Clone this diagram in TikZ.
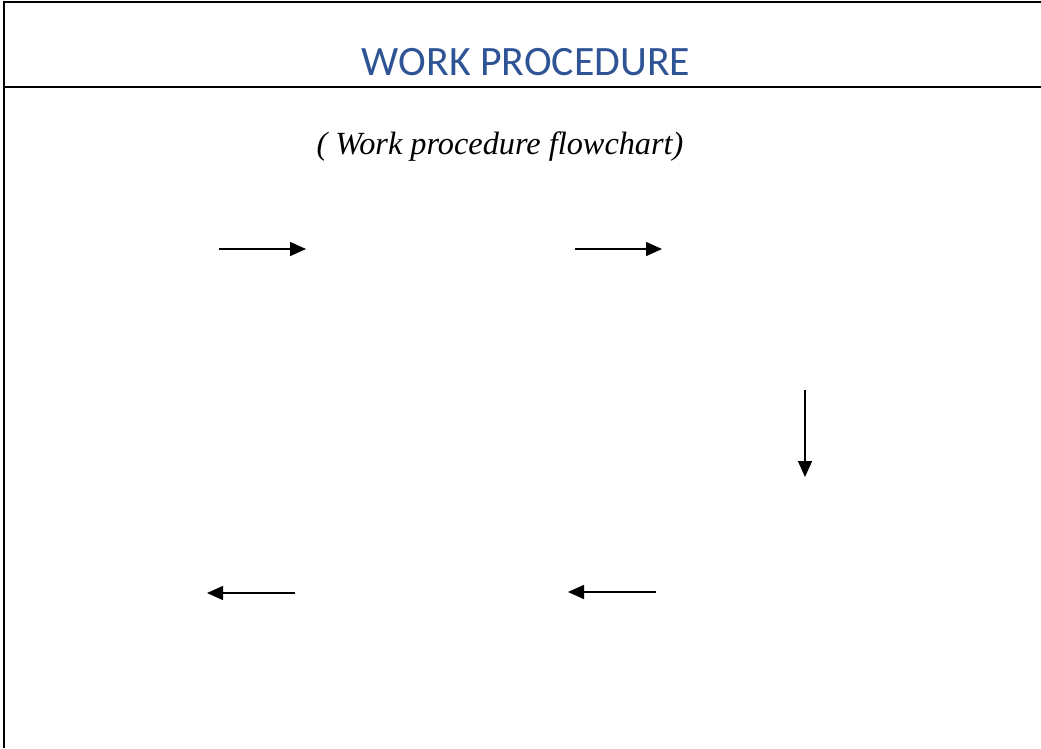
\documentclass[tikz,border=0pt]{standalone}
\usepackage{fontspec}
\usepackage{tikz}
\usetikzlibrary{arrows.meta, positioning}
\setmainfont{Liberation Serif}
\newfontfamily\headfont{Carlito}
\definecolor{headblue}{RGB}{47,84,150}

\begin{document}
\begin{tikzpicture}[x=1pt, y=-1pt, thick,
    flow/.style={line width=1.5pt, -{Triangle[length=16pt, width=14pt]}}]
    \useasboundingbox (0, 0) rectangle (1041, 748);

    % Frame
    \draw[line width=2pt] (4, 748) -- (4, 1.5) -- (1041, 1.5);
    \draw[line width=2pt] (4, 87) -- (1041, 87);

    % Heading
    \node[font=\headfont\fontsize{41.8}{50}\selectfont, text=headblue, inner sep=0pt] (head) at (526, 62) {WORK PROCEDURE};
    \node[font=\itshape\fontsize{32.3}{38}\selectfont, inner sep=0pt] (sub) at (500, 146.5) {( Work procedure flowchart)};

    % Arrow ends
    \coordinate (r1a) at (219, 249);
    \coordinate (r1b) at (306, 249);
    \coordinate (r2a) at (575, 249);
    \coordinate (r2b) at (662, 249);
    \coordinate (da) at (805, 390);
    \coordinate (db) at (805, 477);
    \coordinate (l2a) at (656, 592);
    \coordinate (l2b) at (568, 592);
    \coordinate (l1a) at (295, 593);
    \coordinate (l1b) at (207, 593);

    % Arrows
    \draw[flow] (r1a) -- (r1b);
    \draw[flow] (r2a) -- (r2b);
    \draw[flow] (da) -- (db);
    \draw[flow] (l2a) -- (l2b);
    \draw[flow] (l1a) -- (l1b);

\end{tikzpicture}
\end{document}
